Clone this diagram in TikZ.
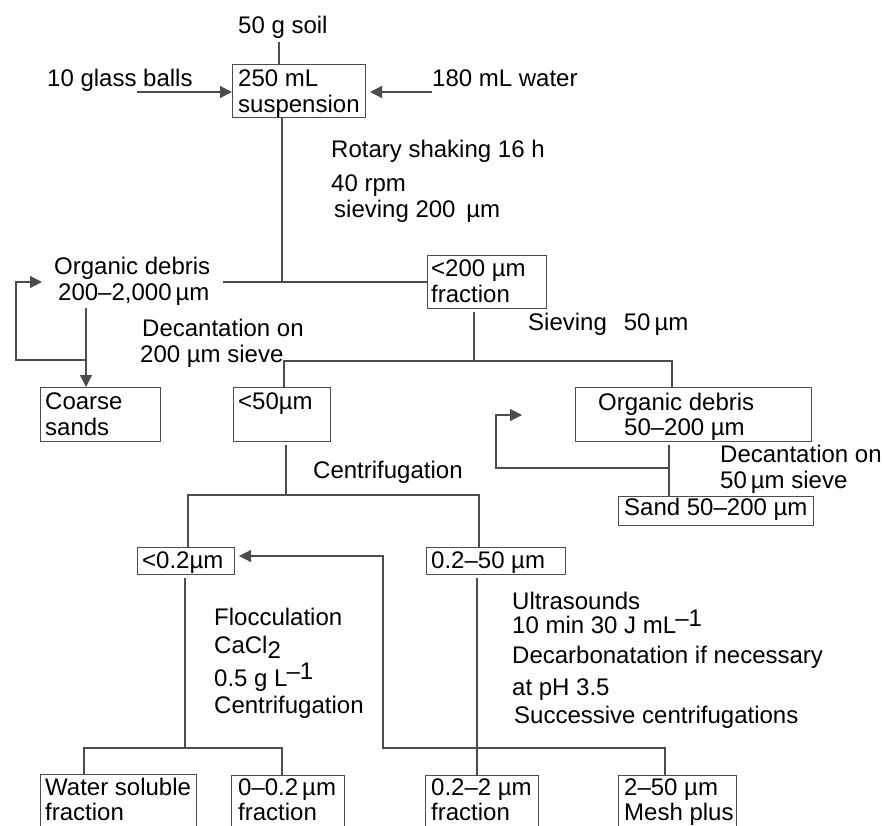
\documentclass[tikz,border=0pt]{standalone}
\usepackage{fontspec}
\setmainfont{Liberation Sans}
\usetikzlibrary{arrows.meta,calc}
\definecolor{linec}{gray}{0.3}
\begin{document}
\begin{tikzpicture}[x=1pt,y=-1pt,
  boxnode/.style={draw=linec,line width=1.2pt,inner sep=0pt,anchor=north west,rectangle},
  txt/.style={anchor=base west,inner sep=0pt,font=\fontsize{24}{28}\selectfont},
  ln/.style={draw=linec,line width=1.2pt},
  arr/.style={ln,-{Triangle[length=12pt,width=12pt]}}]
\useasboundingbox (0,0) rectangle (885,825);
\clip (0,0) rectangle (885,825);
% ---------- boxes ----------
\node[boxnode,minimum width=133pt,minimum height=53pt] (susp) at (232,64) {};
\node[boxnode,minimum width=119pt,minimum height=53pt] (f200) at (427,255) {};
\node[boxnode,minimum width=120pt,minimum height=54pt] (coarse) at (40,387) {};
\node[boxnode,minimum width=97pt,minimum height=54pt] (f50) at (233,387) {};
\node[boxnode,minimum width=236pt,minimum height=54pt] (od50) at (575,387) {};
\node[boxnode,minimum width=195pt,minimum height=29pt] (sand) at (618,496) {};
\node[boxnode,minimum width=97pt,minimum height=27pt] (f02) at (137,547) {};
\node[boxnode,minimum width=139pt,minimum height=27pt] (f250) at (426,547) {};
\node[boxnode,minimum width=156pt,minimum height=80pt] (ws) at (40,774) {};
\node[boxnode,minimum width=113pt,minimum height=80pt] (f002) at (231,775) {};
\node[boxnode,minimum width=113pt,minimum height=80pt] (f022) at (425,775) {};
\node[boxnode,minimum width=118pt,minimum height=80pt] (f250m) at (618,775) {};
% ---------- texts ----------
\node[txt] (tsoil) at (238,33) {50 g soil};
\node[txt] (tglass) at (47,86) {10 glass balls};
\node[txt] (twater) at (432,86) {180 mL water};
\node[txt] (tsusp1) at (238,86) {250 mL};
\node[txt] (tsusp2) at (238,112) {suspension};
\node[txt] (trot1) at (331,157) {Rotary shaking 16 h};
\node[txt] (trot2) at (331,191) {40 rpm};
\node[txt] (trot3) at (334,217) {sieving 200 \,µm};
\node[txt] (tod1) at (54,274) {Organic debris};
\node[txt] (tod2) at (58,300) {200–2,000\,µm};
\node[txt] (tf2001) at (431,276) {<200 µm};
\node[txt] (tf2002) at (431,302) {fraction};
\node[txt] (tsiev) at (528,330) {Sieving\hspace{17pt}50\,µm};
\node[txt] (tdec1) at (142,336) {Decantation on};
\node[txt] (tdec2) at (140,362) {200 µm sieve};
\node[txt] (tcoarse1) at (45,409) {Coarse};
\node[txt] (tcoarse2) at (45,435) {sands};
\node[txt] (tf50) at (238,409) {<50µm};
\node[txt] (tcen) at (313,478) {Centrifugation};
\node[txt] (tod501) at (598,410) {Organic debris};
\node[txt] (tod502) at (624,435) {50–200 µm};
\node[txt] (tdec3) at (720,462) {Decantation on};
\node[txt] (tdec4) at (720,488) {50\,µm sieve};
\node[txt] (tsand) at (624,515) {Sand 50–200 µm};
\node[txt] (tf02) at (142,568) {<0.2µm};
\node[txt] (tf250) at (431,568) {0.2–50 µm};
\node[txt] (tfl1) at (214,625) {Flocculation};
\node[txt] (tfl2) at (214,653) {CaCl\raisebox{-5pt}{2}};
\node[txt] (tfl3) at (214,686) {0.5 g L\kern-1pt\raisebox{7pt}{–1}};
\node[txt] (tfl4) at (214,713) {Centrifugation};
\node[txt] (tus1) at (512,609) {Ultrasounds};
\node[txt] (tus2) at (512,633) {10 min 30 J mL\kern-1pt\raisebox{7pt}{–1}};
\node[txt] (tus3) at (512,663) {Decarbonatation if necessary};
\node[txt] (tus4) at (512,695) {at pH 3.5};
\node[txt] (tus5) at (514,723) {Successive centrifugations};
\node[txt] (tws1) at (45,795) {Water soluble};
\node[txt] (tws2) at (45,820) {fraction};
\node[txt] (tf0021) at (238,795) {0–0.2\,µm};
\node[txt] (tf0022) at (238,820) {fraction};
\node[txt] (tf0221) at (431,795) {0.2–2 µm};
\node[txt] (tf0222) at (431,820) {fraction};
\node[txt] (tf2501) at (624,795) {2–50 µm};
\node[txt] (tf2502) at (624,820) {Mesh plus};
% ---------- coordinates ----------
\coordinate (j1) at (279,42);
\coordinate (g0) at (137,92);
\coordinate (w0) at (432,92);
\coordinate (w1) at (370,92);
\coordinate (j2) at (282,282);
\coordinate (h1) at (223,282);
\coordinate (fb1s) at (86,360);
\coordinate (fb1) at (16,360);
\coordinate (fb1t) at (42,282);
\coordinate (c0) at (86,308);
\coordinate (j3t) at (474,312);
\coordinate (j3) at (474,361);
\coordinate (h2a) at (284,361);
\coordinate (h2b) at (672,361);
\coordinate (j4t) at (286,445);
\coordinate (h3a) at (188,495);
\coordinate (h3b) at (479,495);
\coordinate (j5) at (669,445);
\coordinate (k1) at (669,468);
\coordinate (k2) at (496,468);
\coordinate (k3) at (522,415);
\coordinate (j6t) at (185,578);
\coordinate (j6) at (185,748);
\coordinate (h4a) at (84,748);
\coordinate (h4b) at (282,748);
\coordinate (j7t) at (477,578);
\coordinate (h5a) at (383,748);
\coordinate (h5b) at (665,748);
\coordinate (k4) at (239,556);
% ---------- connectors ----------
\draw[ln] (j1) -- (j1 |- susp.north);
\draw[arr] (g0) -- (g0 -| susp.west);
\draw[arr] (w0) -- (w1);
\draw[ln] (j2 |- susp.south) -- (j2);
\draw[ln] (h1) -- (h1 -| f200.west);
\draw[arr] (fb1s) -- (fb1) -- (fb1 |- fb1t) -- (fb1t);
\draw[arr] (c0) -- (c0 |- coarse.north);
\draw[ln] (j3t) -- (j3);
\draw[ln] (h2a |- f50.north) -- (h2a) -- (h2b) -- (h2b |- od50.north);
\draw[ln] (j4t) -- (j4t |- h3a);
\draw[ln] (h3a |- f02.north) -- (h3a) -- (h3b) -- (h3b |- f250.north);
\draw[ln] (j5) -- (j5 |- sand.north);
\draw[arr] (k1) -- (k2) -- (k2 |- k3) -- (k3);
\draw[ln] (j6t) -- (j6);
\draw[ln] (h4a |- ws.north) -- (h4a) -- (h4b) -- (h4b |- f002.north);
\draw[ln] (j7t) -- (j7t |- f022.north);
\draw[arr] (h5b |- f250m.north) -- (h5b) -- (h5a) -- (h5a |- k4) -- (k4);
\end{tikzpicture}
\end{document}
